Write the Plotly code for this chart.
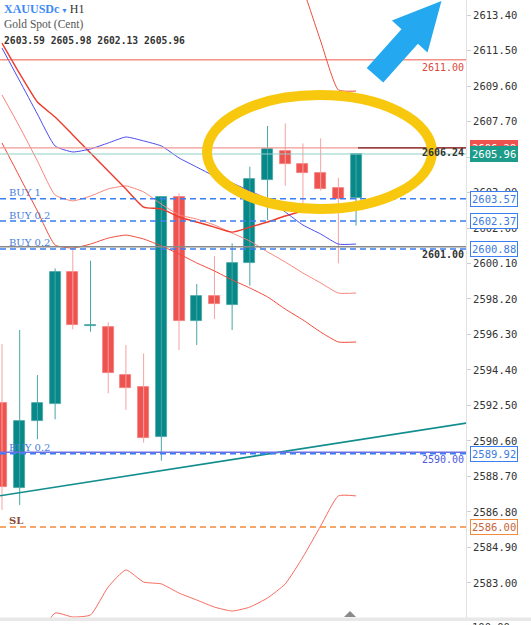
import plotly.graph_objects as go

# ---------------- data ----------------
bar_index = list(range(21))
opens  = [2592.65, 2588.08, 2591.69, 2592.58, 2599.66, 2596.74, 2596.68, 2594.13, 2593.47, 2590.83,
          2603.64, 2597.02, 2598.36, 2597.88, 2600.14, 2604.57, 2606.14, 2605.43, 2604.93, 2604.14, 2603.59]
highs  = [2595.79, 2596.54, 2594.13, 2599.84, 2600.91, 2600.25, 2596.95, 2595.74, 2595.29, 2603.70,
          2603.86, 2599.00, 2600.50, 2601.18, 2605.28, 2607.46, 2607.60, 2606.53, 2606.80, 2604.69, 2605.98]
lows   = [2586.91, 2587.17, 2590.69, 2591.76, 2596.58, 2596.45, 2593.15, 2592.26, 2590.51, 2589.55,
          2595.47, 2595.74, 2597.13, 2596.54, 2598.91, 2602.43, 2604.26, 2603.28, 2604.00, 2600.11, 2602.13]
closes = [2588.14, 2591.69, 2592.62, 2599.66, 2596.81, 2596.80, 2594.22, 2593.42, 2590.76, 2603.68,
          2597.02, 2598.36, 2597.93, 2600.14, 2604.61, 2606.23, 2605.43, 2604.96, 2604.09, 2603.55, 2605.96]

ma_blue = [2611.63, 2609.87, 2608.10, 2606.39, 2606.07, 2606.23, 2606.55, 2606.87, 2606.66, 2606.39,
           2605.75, 2605.26, 2604.78, 2604.41, 2603.98, 2603.55, 2602.86, 2602.16, 2601.68, 2601.14, 2601.14]
red_mid = [2611.90, 2610.26, 2608.74, 2607.94, 2606.98, 2606.01, 2605.05, 2604.09, 2603.12, 2603.02,
           2602.59, 2602.32, 2602.05, 2601.78, 2602.05, 2602.32, 2602.64, 2602.91, 2603.02, 2603.07, 2603.12]
red_env_up = [2609.12, 2607.41, 2605.59, 2603.77, 2603.45, 2603.71, 2604.09, 2604.25, 2603.93, 2603.28,
              2602.70, 2602.48, 2602.16, 2601.73, 2601.30, 2600.72, 2600.18, 2599.59, 2599.06, 2598.52, 2598.52]
red_env_lo = [2606.55, 2604.73, 2602.91, 2601.09, 2600.93, 2601.14, 2601.46, 2601.62, 2601.41, 2601.04,
              2600.61, 2600.13, 2599.70, 2599.22, 2598.79, 2598.31, 2597.66, 2597.08, 2596.43, 2595.90, 2595.90]
bb_upper = [None] * 16 + [2617.60, 2614.84, 2612.01, 2609.39, 2609.33]
bb_lower = [None, None, 2580.00, 2581.39, 2581.18, 2581.29, 2582.79, 2583.70, 2583.05, 2582.95,
            2582.46, 2582.09, 2581.71, 2581.50, 2581.71, 2582.20, 2582.95, 2584.39, 2586.05, 2587.66, 2587.66]

trend_x = [-1, 27]
trend_y = [2587.54, 2591.67]

ask_price = 2606.29
bid_price = closes[-1]
resistance = 2611.00
support_lines = [2601.00, 2590.00]
buy_labels = ["BUY 1", "BUY 0.2", "BUY 0.2", "BUY 0.2"]
buy_levels = [2603.57, 2602.37, 2600.88, 2589.92]
sl_level = 2586.00
ask_line_label = "2606.24"

y_ticks = [2613.40, 2611.50, 2609.60, 2607.70, 2605.80, 2603.90, 2602.00, 2600.10, 2598.20,
           2596.30, 2594.40, 2592.50, 2590.60, 2588.70, 2586.80, 2584.90, 2583.00]

# ---------------- layout constants ----------------
W, H = 531, 625
ML, MR, MT, MB = 0, 65, 0, 7
PW, PH = W - ML - MR, H - MT - MB
X_RANGE = [-0.113, 26.21]
Y_RANGE = [2581.126, 2614.203]

def px(x):
    return x / PW

def py(y):
    return 1 - y / PH

def xdata(pxx):
    return X_RANGE[0] + pxx / PW * (X_RANGE[1] - X_RANGE[0])

TEAL = "#07898a"
TEAL_W = "#4aa5a5"
RED = "#ef5350"
RED_W = "#f4a3a3"
BLUE_LVL = "#3b7ff0"
MONO = "DejaVu Sans Mono"
SERIF = "DejaVu Serif"

fig = go.Figure()

# left text labels (under candles)
for lab, lvl in zip(buy_labels, buy_levels):
    fig.add_trace(go.Scatter(x=[xdata(9)], y=[lvl], mode="text", text=[lab],
                             textposition="top right",
                             textfont=dict(family=SERIF, size=10, color="#4a80dd"),
                             showlegend=False, hoverinfo="skip"))
fig.add_trace(go.Scatter(x=[xdata(9)], y=[sl_level], mode="text", text=["<b>SL</b>"],
                         textposition="top right",
                         textfont=dict(family=SERIF, size=10, color="#8e4a3a"),
                         showlegend=False, hoverinfo="skip"))

# wicks
for up, col in ((True, TEAL_W), (False, RED_W)):
    xs, ys = [], []
    for i, o, h, l, c in zip(bar_index, opens, highs, lows, closes):
        if (c >= o) == up:
            xs += [i, i, None]
            ys += [l, h, None]
    fig.add_trace(go.Scatter(x=xs, y=ys, mode="lines", line=dict(color=col, width=1),
                             showlegend=False, hoverinfo="skip"))

# bodies
bases = [min(o, c) for o, c in zip(opens, closes)]
heights = [abs(c - o) for o, c in zip(opens, closes)]
fills = [TEAL if c >= o else RED for o, c in zip(opens, closes)]
edges = [TEAL_W if c >= o else "#f37b79" for o, c in zip(opens, closes)]
fig.add_trace(go.Bar(x=bar_index, y=heights, base=bases, width=0.62,
                     marker=dict(color=fills, line=dict(color=edges, width=0.8)),
                     showlegend=False, hoverinfo="skip"))

# indicator lines
def add_line(vals, color, width):
    fig.add_trace(go.Scatter(x=bar_index, y=vals, mode="lines",
                             line=dict(color=color, width=width, shape="spline", smoothing=0.5),
                             connectgaps=False, showlegend=False, hoverinfo="skip"))

add_line(red_env_up, "#f7857a", 1)
add_line(red_env_lo, "#f04a3a", 1)
add_line(red_mid, "#ee3b2c", 1.4)
add_line(bb_upper, "#f04a3a", 1)
add_line(bb_lower, "#f86a5e", 1)
add_line(ma_blue, "#4b4bf0", 1)

# trendline
fig.add_trace(go.Scatter(x=trend_x, y=trend_y, mode="lines", line=dict(color="#138e8e", width=1.6),
                         showlegend=False, hoverinfo="skip"))

shapes = []
def hline(y, color, width=1, dash="solid", x0=0, x1=1):
    shapes.append(dict(type="line", xref="paper", yref="y", x0=x0, x1=x1, y0=y, y1=y,
                       line=dict(color=color, width=width, dash=dash), layer="above"))

hline(resistance, "#ef5a4a", 1)
hline(ask_price, "#f29a96", 1.2)
hline(ask_price, "#7a1f1f", 1.4, x0=px(358), x1=1)
hline(bid_price, "#8fd0c8", 1.2)
hline(support_lines[0], "#8a8a8a", 1.6)
hline(support_lines[1], "#6d70e6", 1.6)
for lvl in buy_levels:
    hline(lvl, BLUE_LVL, 1.5, dash="6px,4px")
hline(sl_level, "#f28a3c", 1.5, dash="6px,4px")

# yellow ellipse
shapes.append(dict(type="circle", xref="paper", yref="paper",
                   x0=px(207), x1=px(432), y0=py(209), y1=py(95),
                   line=dict(color="#f8c80f", width=10), layer="above"))

# blue arrow
pts = [(371, 67.7), (405.7, 29), (397.5, 21.6), (437, 6), (425.9, 47), (417.7, 39.6), (383, 78.3)]
path = "M " + " L ".join(f"{px(a):.5f},{py(b):.5f}" for a, b in pts) + " Z"
shapes.append(dict(type="path", xref="paper", yref="paper", path=path,
                   fillcolor="#24a9f0", line=dict(color="#24a9f0", width=6), layer="above"))

# bottom separator strip and marker
shapes.append(dict(type="rect", xref="paper", yref="paper", x0=0, x1=W / PW, y0=py(621), y1=py(617.5),
                   fillcolor="#e8e8e8", line=dict(width=0), layer="above"))
shapes.append(dict(type="path", xref="paper", yref="paper",
                   path=f"M {px(344)},{py(617)} L {px(356)},{py(617)} L {px(350)},{py(611)} Z",
                   fillcolor="#8a8a8a", line=dict(width=0), layer="above"))

annotations = []
# header
annotations.append(dict(xref="paper", yref="paper", x=px(3), y=py(1), xanchor="left", yanchor="top",
                        showarrow=False, borderpad=0,
                        text="<span style='color:#3d8af7'><b>XAUUSDc</b></span>"
                             "<span style='color:#3d8af7;font-size:7px'> ▼ </span>H1",
                        font=dict(family="Liberation Serif", size=12, color="#333")))
annotations.append(dict(xref="paper", yref="paper", x=px(3), y=py(17), xanchor="left", yanchor="top",
                        showarrow=False, borderpad=0, text="Gold Spot (Cent)",
                        font=dict(family="Liberation Serif", size=11.5, color="#555")))
ohlc_text = " ".join(f"{v:.2f}" for v in (opens[-1], highs[-1], lows[-1], closes[-1]))
annotations.append(dict(xref="paper", yref="paper", x=px(3), y=py(34), xanchor="left", yanchor="top",
                        showarrow=False, borderpad=0, text="<b>" + ohlc_text + "</b>",
                        font=dict(family=MONO, size=9.7, color="#333")))

# in-plot right labels
def plot_label(y, text, color, bold=False):
    annotations.append(dict(xref="paper", yref="y", x=px(465), y=y, xanchor="right", yanchor="top",
                            showarrow=False, borderpad=0, yshift=-1,
                            text=("<b>%s</b>" % text) if bold else text,
                            font=dict(family=MONO, size=10, color=color)))

plot_label(resistance, f"{resistance:.2f}", "#d9483b")
annotations.append(dict(xref="paper", yref="y", x=px(465), y=ask_price, xanchor="right", yanchor="top",
                        showarrow=False, borderpad=0, yshift=2, text="<b>" + ask_line_label + "</b>",
                        font=dict(family=MONO, size=10, color="#333")))
plot_label(support_lines[0], f"{support_lines[0]:.2f}", "#333", bold=True)
plot_label(support_lines[1], f"{support_lines[1]:.2f}", "#4c5be0")

# axis boxes
def axis_box(y, text, fg, bg, border):
    annotations.append(dict(xref="paper", yref="y", x=px(470), y=y, xanchor="left", yanchor="middle",
                            showarrow=False, text=text, bgcolor=bg, bordercolor=border, borderwidth=1,
                            borderpad=1, font=dict(family=MONO, size=10.5, color=fg)))

axis_box(ask_price, f"{ask_price:.2f}", "#ffffff", "#ef5350", "#ef5350")
axis_box(bid_price, f"{bid_price:.2f}", "#ffffff", "#1d9b8b", "#1d9b8b")
for lvl in buy_levels:
    axis_box(lvl, f"{lvl:.2f}", "#3b7be0", "#ffffff", BLUE_LVL)
axis_box(sl_level, f"{sl_level:.2f}", "#c8643a", "#ffffff", "#f28a3c")

annotations.append(dict(xref="paper", yref="paper", x=px(471), y=py(620), xanchor="left", yanchor="top",
                        showarrow=False, borderpad=0, text="100.00",
                        font=dict(family=MONO, size=10.5, color="#333")))

fig.update_layout(
    width=W, height=H, margin=dict(l=ML, r=MR, t=MT, b=MB),
    paper_bgcolor="white", plot_bgcolor="white",
    showlegend=False, shapes=shapes, annotations=annotations,
    xaxis=dict(range=X_RANGE, visible=False, fixedrange=True),
    yaxis=dict(range=Y_RANGE, side="right", tickvals=y_ticks, ticktext=[f"{t:.2f}" for t in y_ticks],
               showgrid=False, zeroline=False, showline=True, linecolor="#e2e2e2", linewidth=1,
               ticks="outside", ticklen=4, tickcolor="#d0d0d0",
               tickfont=dict(family=MONO, size=10.5, color="#333")),
    bargap=0,
)

fig.write_html("out.html")
